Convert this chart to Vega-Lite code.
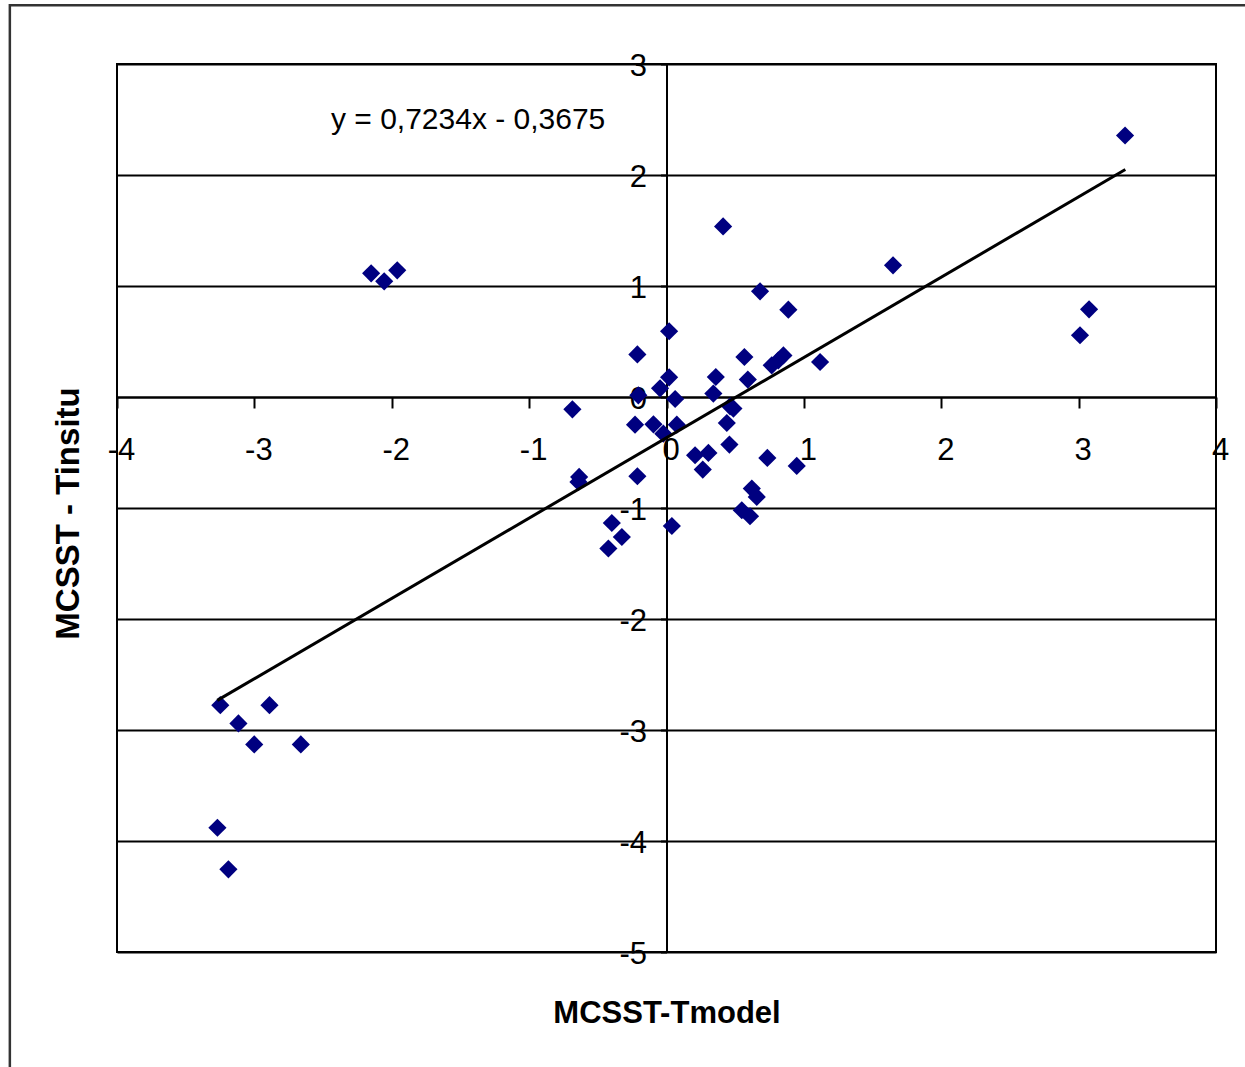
{
  "$schema": "https://vega.github.io/schema/vega-lite/v6.json",
  "width": 1099,
  "height": 888,
  "autosize": {"type": "none"},
  "padding": {"left": 117, "top": 64, "right": 29, "bottom": 115},
  "background": "white",
  "config": {
    "view": {"stroke": "black", "strokeWidth": 2},
    "font": "Liberation Sans"
  },
  "datasets": {
    "points": [
      {"x": 3.338, "y": 2.356}, {"x": 0.412, "y": 1.537}, {"x": 1.649, "y": 1.186},
      {"x": -2.150, "y": 1.114}, {"x": -2.055, "y": 1.042}, {"x": -1.960, "y": 1.141},
      {"x": 0.681, "y": 0.952}, {"x": 0.887, "y": 0.787}, {"x": 3.076, "y": 0.790},
      {"x": 3.010, "y": 0.556}, {"x": 0.019, "y": 0.592}, {"x": -0.212, "y": 0.384},
      {"x": 0.567, "y": 0.360}, {"x": 0.851, "y": 0.375}, {"x": 1.118, "y": 0.315},
      {"x": 0.814, "y": 0.330}, {"x": 0.766, "y": 0.285}, {"x": 0.359, "y": 0.180},
      {"x": 0.592, "y": 0.157}, {"x": 0.019, "y": 0.177}, {"x": -0.047, "y": 0.078},
      {"x": 0.341, "y": 0.031}, {"x": 0.063, "y": -0.018}, {"x": -0.685, "y": -0.111},
      {"x": 0.463, "y": -0.084}, {"x": 0.487, "y": -0.104}, {"x": 0.439, "y": -0.234},
      {"x": -0.229, "y": -0.249}, {"x": -0.095, "y": -0.246}, {"x": 0.075, "y": -0.249},
      {"x": -0.023, "y": -0.330}, {"x": 0.458, "y": -0.429}, {"x": 0.208, "y": -0.525},
      {"x": 0.305, "y": -0.504}, {"x": 0.734, "y": -0.549}, {"x": 0.948, "y": -0.621},
      {"x": 0.264, "y": -0.654}, {"x": -0.636, "y": -0.720}, {"x": -0.641, "y": -0.765},
      {"x": -0.212, "y": -0.714}, {"x": 0.621, "y": -0.825}, {"x": 0.657, "y": -0.900},
      {"x": 0.548, "y": -1.020}, {"x": 0.608, "y": -1.074}, {"x": -0.398, "y": -1.135},
      {"x": 0.039, "y": -1.162}, {"x": -0.325, "y": -1.261}, {"x": -0.423, "y": -1.365},
      {"x": -3.248, "y": -2.776}, {"x": -2.890, "y": -2.776}, {"x": -3.116, "y": -2.941},
      {"x": -3.001, "y": -3.130}, {"x": -2.662, "y": -3.130}, {"x": -3.269, "y": -3.881},
      {"x": -3.189, "y": -4.255}, {"x": -0.205, "y": 0.015}
    ],
    "trend": [
      {"x": -3.27, "y": -2.733},
      {"x": 3.34, "y": 2.049}
    ],
    "label": [
      {"x": -1.444, "y": 2.494, "text": "y = 0,7234x - 0,3675"}
    ],
    "frame": [
      {"x": -4.78, "x2": 4.3, "y": 3.53, "y2": -6.3}
    ]
  },
  "layer": [
    {
      "data": {"name": "points"},
      "mark": {"type": "point", "shape": "diamond", "filled": true, "color": "#000080", "opacity": 1, "size": 330},
      "encoding": {
        "x": {
          "field": "x", "type": "quantitative",
          "scale": {"domain": [-4, 4], "nice": false, "zero": false},
          "axis": {
            "orient": "bottom", "offset": -555, "values": [-4, -3, -2, -1, 0, 1, 2, 3, 4],
            "labelExpr": "'' + datum.value",
            "grid": false, "domainColor": "black", "domainWidth": 2,
            "ticks": true, "tickColor": "black", "tickWidth": 2, "tickSize": 11,
            "labelFont": "Liberation Sans", "labelFontSize": 31, "labelColor": "black",
            "labelPadding": 27, "labelOffset": 4, "labelFlush": false, "labelOverlap": false,
            "title": "MCSST-Tmodel", "titleFont": "Liberation Sans", "titleFontSize": 31,
            "titleFontWeight": "bold", "titleColor": "black", "titleBaseline": "alphabetic",
            "titleY": 625
          }
        },
        "y": {
          "field": "y", "type": "quantitative",
          "scale": {"domain": [-5, 3], "nice": false, "zero": false},
          "axis": {
            "orient": "left", "offset": -549.5, "values": [-5, -4, -3, -2, -1, 0, 1, 2, 3],
            "labelExpr": "'' + datum.value",
            "grid": true, "gridColor": "black", "gridWidth": 2, "gridOpacity": 1,
            "domainColor": "black", "domainWidth": 2,
            "ticks": true, "tickColor": "black", "tickWidth": 2, "tickSize": 6,
            "labelFont": "Liberation Sans", "labelFontSize": 31, "labelColor": "black",
            "labelPadding": 14, "labelOffset": 2, "labelFlush": false, "labelOverlap": false,
            "title": "MCSST - Tinsitu", "titleFont": "Liberation Sans", "titleFontSize": 33,
            "titleFontWeight": "bold", "titleColor": "black", "titleBaseline": "alphabetic",
            "titleAlign": "center", "titleAngle": -90, "titleX": -588, "titleY": 449
          }
        }
      }
    },
    {
      "data": {"name": "frame"},
      "mark": {"type": "rect", "fill": null, "stroke": "#333333", "strokeWidth": 2.5, "clip": false},
      "encoding": {
        "x": {"field": "x", "type": "quantitative"},
        "x2": {"field": "x2"},
        "y": {"field": "y", "type": "quantitative"},
        "y2": {"field": "y2"}
      }
    },
    {
      "data": {"name": "trend"},
      "mark": {"type": "line", "color": "black", "strokeWidth": 3},
      "encoding": {
        "x": {"field": "x", "type": "quantitative"},
        "y": {"field": "y", "type": "quantitative"}
      }
    },
    {
      "data": {"name": "label"},
      "mark": {"type": "text", "font": "Liberation Sans", "fontSize": 30, "color": "black", "align": "center", "baseline": "middle"},
      "encoding": {
        "x": {"field": "x", "type": "quantitative"},
        "y": {"field": "y", "type": "quantitative"},
        "text": {"field": "text"}
      }
    }
  ]
}
